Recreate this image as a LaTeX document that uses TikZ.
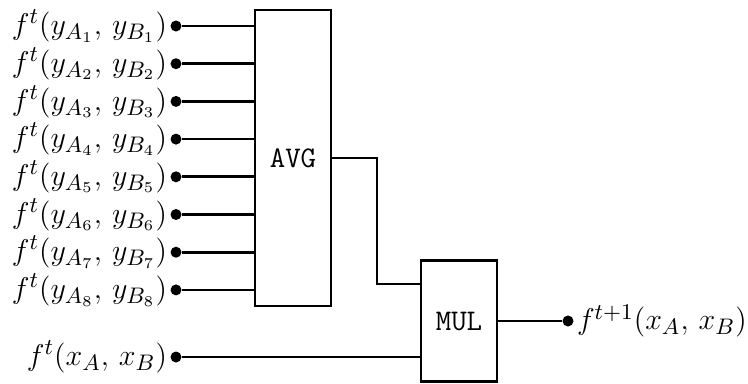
\documentclass[tikz,border=0pt]{standalone}
\usetikzlibrary{positioning}
\usepackage{amsmath}

\begin{document}
\begin{tikzpicture}[
  x=0.4pt, y=-0.4pt,
  font=\fontsize{12.8}{15}\selectfont,
  gate/.style={draw, line width=1.1pt, inner sep=0pt,
               minimum width=30.4pt, font=\fontsize{12}{14}\selectfont\ttfamily},
  wire/.style={line width=1.1pt},
  dot/.style={circle, fill, inner sep=0pt, minimum size=4.4pt},
  every label/.style={inner sep=1pt}, label distance=0pt
]
\useasboundingbox (0,0) rectangle (748,383);
\node[gate, minimum height=118.4pt] (avg) at (293,158) {AVG};
\node[gate, minimum height=48.4pt] (mul) at (459,321) {MUL};
% inputs of the averaging gate
\foreach \i in {1,...,8} {
  \node[dot, label={left:$f^t(y_{A_\i},\, y_{B_\i})$}] (in\i) at (176,{26+37.7*(\i-1)}) {};
  \draw[wire] (in\i) -- (in\i -| avg.west);
}
\node[dot, label={left:$f^t(x_A,\, x_B)$}] (prev) at (176,357) {};
\node[dot, label={right:$f^{t+1}(x_A,\, x_B)$}] (next) at (568,321) {};
\coordinate (jog) at (377,284);
\draw[wire] (avg.east) -| (jog) -- (jog -| mul.west);
\draw[wire] (prev) -- (prev -| mul.west);
\draw[wire] (mul) -- (next);
\end{tikzpicture}
\end{document}
